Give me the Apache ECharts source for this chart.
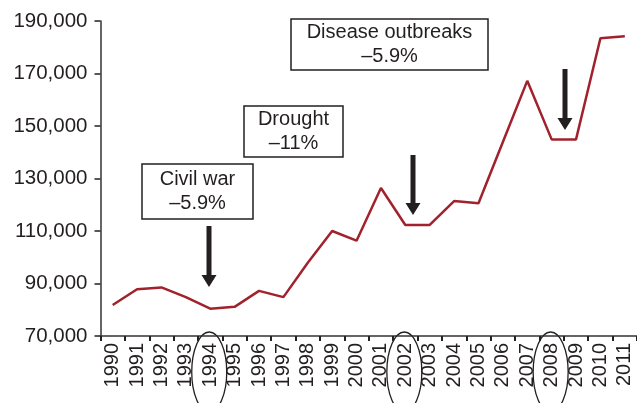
<!DOCTYPE html>
<html>
<head>
<meta charset="utf-8">
<script src="https://cdn.jsdelivr.net/npm/echarts@6/dist/echarts.min.js"></script>
<style>html,body{margin:0;padding:0;background:#fff}#c{width:637px;height:403px}</style>
</head>
<body>
<div id="c"></div>
<script>
var years = ['1990','1991','1992','1993','1994','1995','1996','1997','1998','1999','2000','2001','2002','2003','2004','2005','2006','2007','2008','2009','2010','2011'];
var values = [81800, 87800, 88500, 84800, 80400, 81100, 87200, 84800, 97900, 110000, 106300, 126400, 112300, 112300, 121400, 120600, 143900, 167200, 144900, 144900, 183400, 184200];
var yTicks = [70000, 90000, 110000, 130000, 150000, 170000, 190000];
var boxes = [
  {lines: ['Civil war', '\u20135.9%'], x: 142, y: 164, w: 111, h: 55},
  {lines: ['Drought', '\u201311%'], x: 244, y: 106, w: 99, h: 51},
  {lines: ['Disease outbreaks', '\u20135.9%'], x: 291, y: 19, w: 197, h: 51}
];
var arrows = [
  {x: 209, y1: 226, y2: 287},
  {x: 413, y1: 155, y2: 215},
  {x: 565, y1: 69, y2: 130}
];
var circled = ['1994', '2002', '2008'];

var chart = echarts.init(document.getElementById('c'));
var ink = '#231f20';
var font = 'Liberation Sans, Arial, Helvetica, sans-serif';

var graphics = [];
boxes.forEach(function (b) {
  graphics.push({type: 'rect', shape: {x: b.x, y: b.y, width: b.w, height: b.h},
    style: {fill: '#fff', stroke: ink, lineWidth: 1.5}, z: 10});
  graphics.push({type: 'text', x: b.x + b.w / 2, y: b.y + b.h / 2, z: 11,
    style: {text: b.lines.join('\n'), fill: ink, font: '20px ' + font, align: 'center', verticalAlign: 'middle', lineHeight: 24}});
});
arrows.forEach(function (a) {
  var hw = 7.5, hh = 12, sw = 2.5;
  graphics.push({type: 'polygon', z: 10, shape: {points: [
    [a.x - sw, a.y1], [a.x + sw, a.y1], [a.x + sw, a.y2 - hh], [a.x + hw, a.y2 - hh],
    [a.x, a.y2], [a.x - hw, a.y2 - hh], [a.x - sw, a.y2 - hh]]}, style: {fill: ink}});
});

chart.setOption({
  animation: false,
  grid: {left: 100.5, top: 21, width: 543.4, height: 315},
  xAxis: {
    type: 'category', data: years, boundaryGap: true,
    axisLine: {lineStyle: {color: '#333', width: 1.5}},
    axisTick: {show: true, length: 5, lineStyle: {color: '#222', width: 2}},
    axisLabel: {rotate: 90, color: ink, fontSize: 20, fontFamily: font, margin: 7, interval: 0}
  },
  yAxis: {
    type: 'value', min: yTicks[0], max: yTicks[yTicks.length - 1], interval: 20000,
    splitLine: {show: false},
    axisLine: {show: true, lineStyle: {color: '#333', width: 1.5}},
    axisTick: {show: true, length: 6, lineStyle: {color: '#222', width: 1.5}},
    axisLabel: {color: ink, fontSize: 20.5, fontFamily: font, margin: 13,
      formatter: function (v) { return v.toLocaleString('en-US'); }}
  },
  series: [{
    type: 'line', data: values, symbol: 'none',
    lineStyle: {color: '#a1222c', width: 2.5}
  }],
  graphic: graphics
});

var extra = [];
circled.forEach(function (y) {
  var p = chart.convertToPixel({xAxisIndex: 0}, y);
  extra.push({type: 'ellipse', z: 10, shape: {cx: p - 1, cy: 372, rx: 17.5, ry: 40},
    style: {fill: 'none', stroke: ink, lineWidth: 1.3}});
});
chart.setOption({graphic: graphics.concat(extra)});
</script>
</body>
</html>
